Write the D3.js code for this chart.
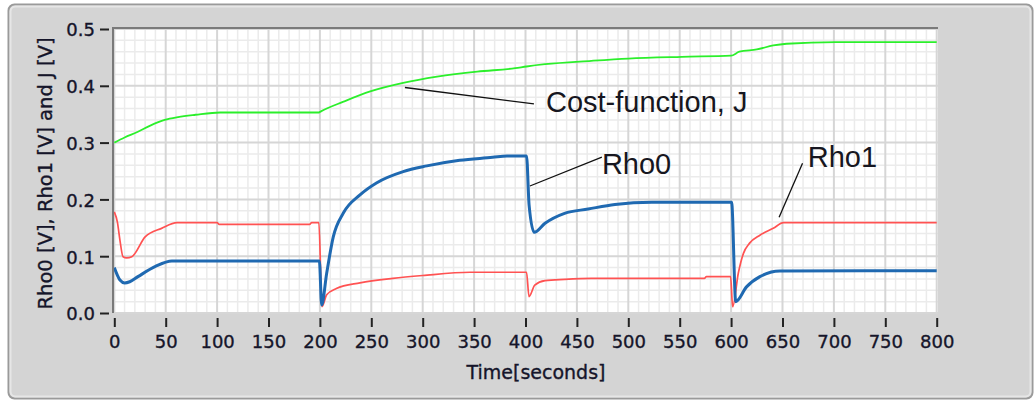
<!DOCTYPE html>
<html>
<head>
<meta charset="utf-8">
<script src="https://cdn.jsdelivr.net/npm/d3@7"></script>
<style>
  html, body { margin: 0; padding: 0; background: #ffffff; }
  svg { display: block; }
</style>
</head>
<body>
<svg id="chart" width="1035" height="404"></svg>
<script>
// Time points [seconds] and values [V] for each trace
const costJ = [
  [0, 0.300], [10, 0.309], [23, 0.319], [35, 0.330], [49, 0.340], [62, 0.345],
  [79, 0.349], [103, 0.353], [199, 0.353], [201, 0.355], [223, 0.372], [249, 0.390],
  [281, 0.405], [314, 0.416], [353, 0.425], [390, 0.431], [401, 0.434], [419, 0.438],
  [464, 0.444], [500, 0.448], [552, 0.451], [600, 0.453], [608, 0.460], [625, 0.464],
  [641, 0.471], [654, 0.474], [702, 0.477], [800, 0.477]
];
const rho0 = [
  [0, 0.080], [5.5, 0.058], [10, 0.053], [15, 0.055], [23, 0.064], [40, 0.082],
  [56, 0.0915], [199.5, 0.0915], [201.7, 0.014], [206.6, 0.070], [213, 0.134],
  [222.8, 0.176], [239, 0.208], [255, 0.229], [281, 0.249], [304, 0.259], [336, 0.269],
  [368, 0.274], [382, 0.2765], [401, 0.2765], [403.5, 0.19], [408.5, 0.142], [419, 0.158],
  [438, 0.1755], [461, 0.183], [487, 0.191], [523, 0.195], [600.5, 0.195], [604.5, 0.020],
  [615, 0.046], [628, 0.064], [647.5, 0.074], [800, 0.0745]
];
const rho1 = [
  [0, 0.178], [3, 0.160], [5.5, 0.128], [8.5, 0.099], [12, 0.097], [17, 0.099],
  [30, 0.134], [46, 0.149], [61, 0.159], [100, 0.159], [102, 0.156], [190, 0.156],
  [192, 0.159], [199, 0.159], [202, 0.011], [206.6, 0.032], [216, 0.043], [239, 0.053],
  [271, 0.061], [300, 0.066], [346, 0.0717], [401, 0.0717], [403.4, 0.029], [409, 0.049],
  [419, 0.057], [438, 0.0593], [464, 0.061], [574, 0.061], [576, 0.064], [599.5, 0.064],
  [601.5, 0.011], [607, 0.070], [612, 0.105], [618, 0.123], [628, 0.137], [641, 0.149],
  [651, 0.159], [800, 0.159]
];

const xTicks = d3.range(0, 801, 50);
const yTicks = [0.0, 0.1, 0.2, 0.3, 0.4, 0.5];
const xTitle = "Time[seconds]";
const yTitle = "Rho0 [V], Rho1 [V] and J [V]";

// Callout labels: text, leader start (t, v), leader end (t, v), text anchor (t, v)
const callouts = [
  { text: "Cost-function, J", from: [282.7, 0.397], to: [408.2, 0.368], at: [419.9, 0.354] },
  { text: "Rho0", from: [404.3, 0.2236], to: [474.3, 0.2746], at: [474.3, 0.2447] },
  { text: "Rho1", from: [646.7, 0.1685], to: [669.5, 0.2636], at: [674.6, 0.257] }
];

const svg = d3.select("#chart");
const W = 1035, H = 404;

// Panel background with rounded frame
svg.append("rect").attr("x", 0).attr("y", 0).attr("width", W).attr("height", H).attr("fill", "#ffffff");
svg.append("rect")
  .attr("x", 8.5).attr("y", 4.5).attr("width", 1024).attr("height", 394)
  .attr("rx", 6).attr("fill", "#d4d4d4").attr("stroke", "#9a9a9a").attr("stroke-width", 2);
svg.append("rect")
  .attr("x", 10.5).attr("y", 6.5).attr("width", 1020).attr("height", 390)
  .attr("rx", 5).attr("fill", "none").attr("stroke", "#e6e6e6").attr("stroke-width", 2);

const xLeft = 114.3, xRight = 936.7, yTop = 29, yBottom = 313;
const x = d3.scaleLinear().domain([0, 800]).range([xLeft, xRight]);
const y = d3.scaleLinear().domain([0, 0.5]).range([yBottom, yTop]);

// Plot area
const plotX0 = 113, plotX1 = 938, plotY0 = 28, plotY1 = 313;
svg.append("rect")
  .attr("x", plotX0).attr("y", plotY0)
  .attr("width", plotX1 - plotX0).attr("height", plotY1 - plotY0)
  .attr("fill", "#ffffff");

const grid = svg.append("g");
// minor grid: every 10 s and every 0.02 V
d3.range(0, 801, 10).filter(t => t % 50 !== 0).forEach(t => {
  grid.append("line").attr("x1", x(t)).attr("x2", x(t)).attr("y1", plotY0).attr("y2", plotY1)
    .attr("stroke", "#ebebeb").attr("stroke-width", 1.5);
});
d3.range(0, 26).map(i => i * 0.02).filter((v, i) => i % 5 !== 0).forEach(v => {
  grid.append("line").attr("x1", plotX0).attr("x2", plotX1).attr("y1", y(v)).attr("y2", y(v))
    .attr("stroke", "#ebebeb").attr("stroke-width", 1.5);
});
// major grid
xTicks.forEach(t => {
  grid.append("line").attr("x1", x(t)).attr("x2", x(t)).attr("y1", plotY0).attr("y2", plotY1)
    .attr("stroke", "#d6d6d6").attr("stroke-width", 2);
});
yTicks.forEach(v => {
  grid.append("line").attr("x1", plotX0).attr("x2", plotX1).attr("y1", y(v)).attr("y2", y(v))
    .attr("stroke", "#d6d6d6").attr("stroke-width", 2);
});

// Plot frame: dark top and left edges
svg.append("line").attr("x1", plotX0 - 1).attr("x2", plotX1).attr("y1", plotY0).attr("y2", plotY0)
  .attr("stroke", "#7a7a7a").attr("stroke-width", 2);
svg.append("line").attr("x1", plotX0).attr("x2", plotX0).attr("y1", plotY0).attr("y2", plotY1)
  .attr("stroke", "#7a7a7a").attr("stroke-width", 2);

// Traces
svg.append("clipPath").attr("id", "plotClip").append("rect")
  .attr("x", plotX0 + 1).attr("y", plotY0 + 1)
  .attr("width", plotX1 - plotX0 - 1).attr("height", plotY1 - plotY0 - 1);

const line = d3.line().x(d => x(d[0])).y(d => y(d[1])).curve(d3.curveMonotoneX);
const traces = svg.append("g").attr("clip-path", "url(#plotClip)");
traces.append("path").datum(costJ).attr("d", line)
  .attr("fill", "none").attr("stroke", "#2bef2b").attr("stroke-width", 1.8);
traces.append("path").datum(rho1).attr("d", line)
  .attr("fill", "none").attr("stroke", "#ff5252").attr("stroke-width", 1.7);
traces.append("path").datum(rho0).attr("d", line)
  .attr("fill", "none").attr("stroke", "#1f69b1").attr("stroke-width", 3)
  .attr("stroke-linejoin", "round");

// Axes
const tickFont = "'DejaVu Sans', sans-serif";
const inkColor = "#15152a";
const yAxis = svg.append("g").attr("transform", "translate(109,0)")
  .call(d3.axisLeft(y).tickValues(yTicks).tickFormat(d3.format(".1f")).tickSize(9).tickPadding(5));
const xAxis = svg.append("g").attr("transform", "translate(0,318)")
  .call(d3.axisBottom(x).tickValues(xTicks).tickFormat(d3.format("d")).tickSize(9).tickPadding(8));
[yAxis, xAxis].forEach(g => {
  g.select(".domain").remove();
  g.selectAll(".tick line").attr("stroke", "#222222").attr("stroke-width", 2);
  g.selectAll(".tick text")
    .attr("fill", inkColor).attr("stroke", inkColor).attr("stroke-width", 0.35)
    .style("font-family", tickFont).style("font-size", "18px");
});
yAxis.selectAll(".tick text").attr("dy", "0.38em");

// Axis titles
svg.append("text")
  .attr("x", 536).attr("y", 379).attr("text-anchor", "middle")
  .style("font-family", tickFont).style("font-size", "19px")
  .attr("fill", inkColor).attr("stroke", inkColor).attr("stroke-width", 0.35)
  .text(xTitle);
svg.append("text")
  .attr("transform", "translate(52,173.5) rotate(-90)").attr("text-anchor", "middle")
  .style("font-family", tickFont).style("font-size", "19.5px")
  .attr("fill", inkColor).attr("stroke", inkColor).attr("stroke-width", 0.35)
  .text(yTitle);

// Callouts with leader lines
const notes = svg.append("g");
callouts.forEach(c => {
  notes.append("line")
    .attr("x1", x(c.from[0])).attr("y1", y(c.from[1]))
    .attr("x2", x(c.to[0])).attr("y2", y(c.to[1]))
    .attr("stroke", "#111111").attr("stroke-width", 1.3);
  notes.append("text")
    .attr("x", x(c.at[0])).attr("y", y(c.at[1]))
    .style("font-family", "'Liberation Sans', Arial, sans-serif").style("font-size", "29px")
    .attr("fill", "#161620")
    .text(c.text);
});
</script>
</body>
</html>
